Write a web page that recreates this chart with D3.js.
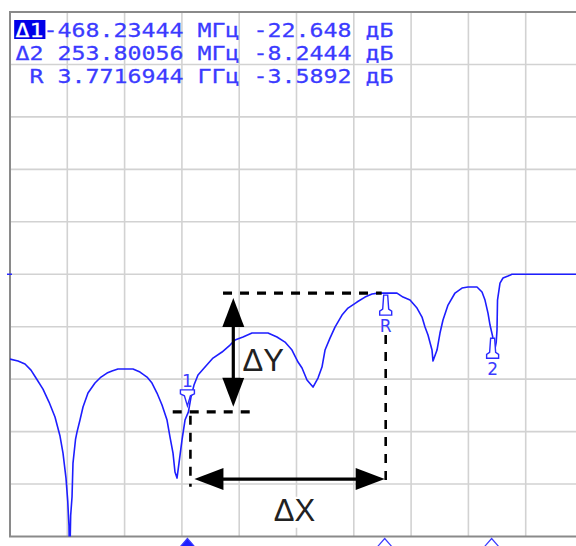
<!DOCTYPE html>
<html>
<head>
<meta charset="utf-8">
<script src="https://cdn.jsdelivr.net/npm/d3@7/dist/d3.min.js"></script>
<style>
  html, body { margin: 0; padding: 0; background: #fff; }
  svg { display: block; }
</style>
</head>
<body>
<svg id="chart" width="576" height="546"></svg>
<script>
// Sweep: frequency in GHz, magnitude in dB
const freqGHz = [
  2.8800, 2.8990, 2.9156, 2.9298, 2.9417, 2.9583, 2.9726, 2.9868, 2.9987, 3.0058,
  3.0129, 3.0170, 3.0200, 3.0215, 3.0240, 3.0272, 3.0295, 3.0355, 3.0390, 3.0461,
  3.0533, 3.0651, 3.0817, 3.0960, 3.1102, 3.1221, 3.1363, 3.1577, 3.1719, 3.1886,
  3.2052, 3.2170, 3.2289, 3.2408, 3.2527, 3.2598, 3.2669, 3.2716, 3.2764, 3.2811,
  3.2882, 3.2954, 3.30346, 3.3096, 3.3167, 3.3262, 3.3476, 3.3618, 3.3832, 3.4022,
  3.4140, 3.4330, 3.4544, 3.4734, 3.4924, 3.5137, 3.5327, 3.5493, 3.5636, 3.5731,
  3.5849, 3.5992, 3.6110, 3.6205, 3.6277, 3.6395, 3.6514, 3.6680, 3.6822, 3.7036,
  3.7226, 3.7392, 3.7534, 3.77169, 3.7985, 3.8128, 3.8294, 3.8460, 3.8579, 3.8650,
  3.8721, 3.8816, 3.8840, 3.8935, 3.9006, 3.9077, 3.9196, 3.9362, 3.9528, 3.9671,
  3.9884, 4.0003, 4.0074, 4.0145, 4.0193, 4.02550, 4.0288, 4.0340, 4.0359, 4.0371,
  4.0430, 4.0501, 4.0620, 4.0715, 4.2400
];
const magDB = [
  -16.17, -16.55, -17.12, -18.27, -19.79, -21.89, -24.37, -27.23, -30.85, -34.09,
  -38.86, -43.20, -48.00, -56.00, -46.00, -42.48, -36.00, -31.50, -30.09, -27.80,
  -25.32, -22.65, -20.74, -19.60, -18.84, -18.44, -18.07, -18.07, -18.07, -18.65,
  -19.60, -20.74, -22.65, -24.94, -27.80, -31.04, -34.09, -37.71, -38.86, -36.00,
  -31.61, -27.80, -26.237, -23.41, -21.13, -19.22, -17.27, -15.98, -14.83, -13.50,
  -12.55, -11.97, -11.21, -11.21, -11.21, -11.97, -12.93, -14.45, -16.74, -17.88,
  -20.17, -21.51, -19.79, -17.69, -14.45, -12.17, -10.07, -7.78, -6.45, -5.30,
  -4.35, -3.78, -3.60, -3.5892, -3.60, -4.35, -4.92, -6.44, -8.16, -10.07,
  -11.59, -14.45, -16.55, -14.45, -11.21, -8.73, -5.87, -3.58, -2.63, -2.44,
  -2.44, -3.39, -4.92, -7.40, -9.68, -11.8336, -15.20, -13.00, -10.64, -4.92,
  -1.68, -0.72, -0.34, 0.00, 0.00
];

// Marker readout (reference marker R, delta markers 1 and 2)
const refFreqGHz = 3.7716944, refDB = -3.5892;
const deltaFreqMHz = [-468.23444, 253.80056];
const deltaDB = [-22.648, -8.2444];
const markerNames = ["1", "2"];
const readoutTags = ["Δ1", "Δ2", " R"];
const readoutValues = [
  "-468.23444 МГц -22.648 дБ",
  " 253.80056 МГц -8.2444 дБ",
  " 3.7716944 ГГц -3.5892 дБ"
];

// Axis settings: 10 dB/div, reference level 0 dB
const freqStart = 2.88, freqStop = 4.24, divisions = 10;
const dbTop = 50, dbBottom = -50;

const svg = d3.select("#chart");
const plotLeft = 10, plotRight = 583, plotTop = 12, plotBottom = 536.5;

const x = d3.scaleLinear().domain([freqStart, freqStop]).range([plotLeft, plotRight]);
const y = d3.scaleLinear().domain([dbBottom, dbTop]).range([plotBottom, plotTop]);

const xGrid = d3.range(divisions + 1).map(i => freqStart + i * (freqStop - freqStart) / divisions);
const yGrid = d3.range(dbBottom, dbTop + 1, 10);

svg.append("defs").append("clipPath").attr("id", "plotClip")
  .append("rect").attr("x", plotLeft).attr("y", plotTop)
  .attr("width", plotRight - plotLeft).attr("height", plotBottom - plotTop);

// grid
const grid = svg.append("g").attr("stroke", "#d2d2d2").attr("stroke-width", 1.6);
grid.selectAll("line.v").data(xGrid.slice(1)).join("line").attr("class", "v")
  .attr("x1", d => x(d)).attr("x2", d => x(d)).attr("y1", plotTop).attr("y2", plotBottom);
grid.selectAll("line.h").data(yGrid.slice(1, -1)).join("line").attr("class", "h")
  .attr("x1", plotLeft).attr("x2", plotRight).attr("y1", d => y(d)).attr("y2", d => y(d));

// frame
const frame = svg.append("g").attr("stroke", "#8a8a8a").attr("stroke-width", 2).attr("fill", "none");
frame.append("rect").attr("x", plotLeft).attr("y", plotTop)
  .attr("width", plotRight - plotLeft).attr("height", plotBottom - plotTop);

// reference level tick on the left edge
svg.append("line").attr("x1", plotLeft - 3).attr("x2", plotLeft + 2)
  .attr("y1", y(0)).attr("y2", y(0)).attr("stroke", "#2a2aff").attr("stroke-width", 1.5);

// marker readout; the active marker tag is shown inverted
const readout = svg.append("g").attr("transform", "translate(15.4,0) scale(1.225,1)");
readout.append("rect").attr("x", -1).attr("y", 20).attr("width", 25.5).attr("height", 19)
  .attr("fill", "#0000e8");
const rows = readout.selectAll("text").data(readoutValues).join("text")
  .attr("x", 0).attr("y", (d, i) => 37 + i * 23)
  .style("white-space", "pre")
  .attr("font-family", "DejaVu Sans Mono")
  .attr("font-size", 19)
  .attr("fill", "#3b3bff")
  .attr("stroke", "#3b3bff").attr("stroke-width", 0.25);
rows.append("tspan")
  .attr("fill", (d, i) => i === 0 ? "#ffffff" : "#3b3bff")
  .attr("stroke", (d, i) => i === 0 ? "#ffffff" : "#3b3bff")
  .text((d, i) => readoutTags[i]);
rows.append("tspan").text(d => d);

// trace
const line = d3.line().x(d => x(d[0])).y(d => y(d[1]));
svg.append("path").datum(freqGHz.map((f, i) => [f, magDB[i]]))
  .attr("clip-path", "url(#plotClip)")
  .attr("fill", "none").attr("stroke", "#1e1eff").attr("stroke-width", 1.6)
  .attr("stroke-linejoin", "round")
  .attr("d", line);

// markers on the trace
const m1f = refFreqGHz + deltaFreqMHz[0] / 1000, m1db = refDB + deltaDB[0];
const m2f = refFreqGHz + deltaFreqMHz[1] / 1000, m2db = refDB + deltaDB[1];
const mk = svg.append("g").attr("stroke", "#2a2aff").attr("stroke-width", 1.4).attr("fill", "#fff");
function upMarker(f, db, label) {
  const cx = x(f), cy = y(db) + 2;
  mk.append("path").attr("d",
    `M${cx - 2},${cy} L${cx + 2},${cy} L${cx + 3},${cy + 14} L${cx + 6},${cy + 16} L${cx + 6},${cy + 20} L${cx - 6},${cy + 20} L${cx - 6},${cy + 16} L${cx - 3},${cy + 14} Z`);
  svg.append("text").attr("x", cx).attr("y", cy + 37).attr("text-anchor", "middle")
    .attr("font-family", "DejaVu Sans").attr("font-size", 17).attr("fill", "#3b3bff").text(label);
}
function downMarker(f, db, label) {
  const cx = x(f) - 1, cy = y(db) - 6;
  mk.append("path").attr("d",
    `M${cx - 7},${cy - 16} L${cx + 7},${cy - 16} L${cx + 7},${cy - 12} L${cx + 3},${cy - 10} L${cx},${cy} L${cx - 3},${cy - 10} L${cx - 7},${cy - 12} Z`);
  svg.append("text").attr("x", cx).attr("y", cy - 19).attr("text-anchor", "middle")
    .attr("font-family", "DejaVu Sans").attr("font-size", 17).attr("fill", "#3b3bff").text(label);
}
upMarker(refFreqGHz, refDB, "R");
upMarker(m2f, m2db, markerNames[1]);
downMarker(m1f, m1db, markerNames[0]);

// marker flags below the frame
const flags = [[m1f, true], [refFreqGHz, false], [m2f, false]];
svg.append("g").selectAll("path").data(flags).join("path")
  .attr("d", d => `M${x(d[0]) - 1},${plotBottom + 2} L${x(d[0]) + 6},${plotBottom + 10} L${x(d[0]) - 8},${plotBottom + 10} Z`)
  .attr("fill", d => d[1] ? "#1e1eff" : "#fff")
  .attr("stroke", "#3b3bff").attr("stroke-width", 1.2);

// ΔX / ΔY construction
const ann = svg.append("g");
const dash = (x1, y1, x2, y2, w) => ann.append("line")
  .attr("x1", x1).attr("y1", y1).attr("x2", x2).attr("y2", y2)
  .attr("stroke", "#000").attr("stroke-width", w).attr("stroke-dasharray", "9,8");
dash(x(3.3856), y(refDB), x(refFreqGHz) - 4, y(refDB), 3.2);
dash(x(3.2662), y(m1db), x(3.458), y(m1db), 3.2);
dash(x(m1f) + 2, y(m1db) + 4, x(m1f) + 2, y(-40.5), 2.6);
dash(x(refFreqGHz), y(refDB) + 42, x(refFreqGHz), y(-40.5), 2.6);

function dblArrow(x1, y1, x2, y2) {
  const len = Math.hypot(x2 - x1, y2 - y1), ux = (x2 - x1) / len, uy = (y2 - y1) / len;
  const hl = 29, hw = 11;
  ann.append("line").attr("x1", x1 + ux * hl * 0.8).attr("y1", y1 + uy * hl * 0.8)
    .attr("x2", x2 - ux * hl * 0.8).attr("y2", y2 - uy * hl * 0.8)
    .attr("stroke", "#000").attr("stroke-width", 3.2);
  const head = (tx, ty, dx, dy) => ann.append("path")
    .attr("d", `M${tx},${ty} L${tx - dx * hl - dy * hw},${ty - dy * hl + dx * hw} L${tx - dx * hl + dy * hw},${ty - dy * hl - dx * hw} Z`)
    .attr("fill", "#000");
  head(x2, y2, ux, uy);
  head(x1, y1, -ux, -uy);
}
dblArrow(x(3.41), y(refDB) + 5, x(3.41), y(m1db) - 5);
dblArrow(x(m1f) + 6, y(-39.05), x(refFreqGHz) - 1, y(-39.05));

// labels on white patches
function boxedLabel(txt, cx, baseline) {
  const t = ann.append("text").attr("x", cx).attr("y", baseline).attr("text-anchor", "middle")
    .attr("font-family", "Liberation Sans").attr("font-size", 31).attr("fill", "#222").text(txt);
  const b = t.node().getBBox();
  ann.insert("rect", () => t.node()).attr("x", b.x - 2).attr("y", b.y + 4)
    .attr("width", b.width + 4).attr("height", b.height - 4).attr("fill", "#fff");
}
boxedLabel("ΔY", x(3.4812), y(-18.4));
boxedLabel("ΔX", x(3.5554), y(-47.0));
</script>
</body>
</html>
